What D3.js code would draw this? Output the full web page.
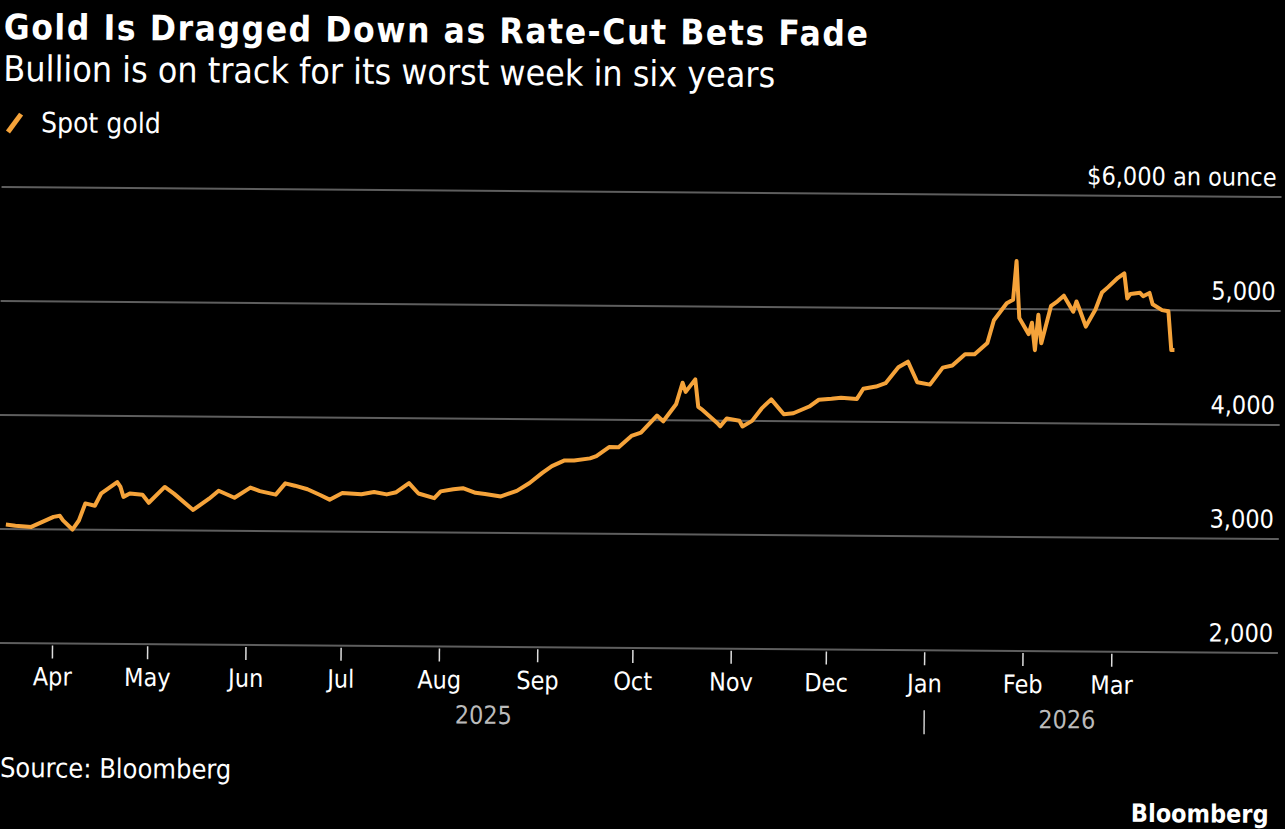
<!DOCTYPE html>
<html><head><meta charset="utf-8">
<script src="https://cdn.jsdelivr.net/npm/d3@7"></script>
<style>body{margin:0;background:#000}svg{display:block}text{font-family:"DejaVu Sans Condensed","DejaVu Sans",sans-serif;fill:#fff}</style>
</head><body><svg id="c" width="1285" height="829"></svg>
<script>
const dates = ["2025-03-17","2025-03-20","2025-03-25","2025-04-01","2025-04-03","2025-04-04","2025-04-07","2025-04-09","2025-04-11","2025-04-14","2025-04-16","2025-04-21","2025-04-22","2025-04-23","2025-04-25","2025-04-29","2025-05-01","2025-05-06","2025-05-09","2025-05-15","2025-05-20","2025-05-23","2025-05-28","2025-06-02","2025-06-05","2025-06-10","2025-06-13","2025-06-16","2025-06-20","2025-06-24","2025-06-27","2025-07-01","2025-07-07","2025-07-11","2025-07-15","2025-07-18","2025-07-22","2025-07-25","2025-07-30","2025-08-01","2025-08-05","2025-08-08","2025-08-12","2025-08-15","2025-08-20","2025-08-25","2025-08-29","2025-09-02","2025-09-05","2025-09-09","2025-09-12","2025-09-17","2025-09-19","2025-09-23","2025-09-26","2025-09-30","2025-10-03","2025-10-08","2025-10-10","2025-10-14","2025-10-16","2025-10-17","2025-10-20","2025-10-21","2025-10-22","2025-10-27","2025-10-28","2025-10-30","2025-11-03","2025-11-04","2025-11-07","2025-11-10","2025-11-13","2025-11-17","2025-11-20","2025-11-25","2025-11-28","2025-12-02","2025-12-05","2025-12-10","2025-12-12","2025-12-16","2025-12-19","2025-12-23","2025-12-26","2025-12-29","2026-01-02","2026-01-06","2026-01-09","2026-01-13","2026-01-16","2026-01-20","2026-01-22","2026-01-26","2026-01-28","2026-01-29","2026-01-30","2026-02-02","2026-02-03","2026-02-04","2026-02-05","2026-02-06","2026-02-09","2026-02-11","2026-02-13","2026-02-16","2026-02-17","2026-02-18","2026-02-20","2026-02-23","2026-02-25","2026-02-27","2026-03-02","2026-03-04","2026-03-05","2026-03-06","2026-03-09","2026-03-10","2026-03-12","2026-03-13","2026-03-16","2026-03-18","2026-03-19","2026-03-20"];
const prices = [3040,3030,3020,3110,3120,3080,3000,3080,3230,3210,3320,3420,3380,3290,3320,3310,3240,3380,3320,3180,3280,3350,3290,3380,3350,3320,3420,3400,3370,3320,3280,3340,3330,3350,3330,3350,3430,3340,3300,3360,3380,3390,3350,3340,3320,3370,3440,3530,3590,3640,3640,3660,3680,3760,3760,3860,3890,4040,3990,4140,4330,4250,4360,4120,4100,3980,3950,4020,4000,3950,4000,4110,4190,4060,4070,4130,4190,4200,4210,4200,4290,4310,4340,4480,4530,4350,4330,4480,4500,4600,4600,4700,4900,5050,5080,5420,4920,4780,4880,4640,4950,4700,5030,5070,5120,4980,5070,5000,4850,5000,5150,5200,5280,5320,5100,5140,5150,5120,5150,5050,5000,4990,4650,4650];
const yTicks = [2000,3000,4000,5000,6000];
const monthLabels = ["Apr","May","Jun","Jul","Aug","Sep","Oct","Nov","Dec","Jan","Feb","Mar"];
const monthStarts = ["2025-04-01","2025-05-01","2025-06-01","2025-07-01","2025-08-01","2025-09-01","2025-10-01","2025-11-01","2025-12-01","2026-01-01","2026-02-01","2026-03-01"];

const parse = d3.timeParse("%Y-%m-%d");
const data = dates.map((d, i) => ({date: parse(d), v: prices[i]}));
const svg = d3.select("#c");
const g = svg.append("g").attr("transform", "rotate(0.45 5 0)");

const x = d3.scaleTime().domain([parse("2025-03-17"), parse("2026-04-23")]).range([10, 1285]);
const y = d3.scaleLinear().domain([2000, 6000]).range([643, 187]);

g.append("text").attr("x", 4).attr("y", 39).attr("font-size", 35).attr("font-weight", "bold").attr("font-family", "DejaVu Sans").attr("letter-spacing", 1.6).text("Gold Is Dragged Down as Rate-Cut Bets Fade");
g.append("text").attr("x", 4).attr("y", 81).attr("font-size", 35.5).text("Bullion is on track for its worst week in six years");
g.append("line").attr("x1", 9).attr("y1", 132).attr("x2", 22).attr("y2", 114).attr("stroke", "#f5a33a").attr("stroke-width", 5);
g.append("text").attr("x", 42).attr("y", 132).attr("font-size", 28).text("Spot gold");

g.selectAll(".grid").data(yTicks).join("line")
  .attr("x1", 3).attr("x2", 1283).attr("y1", d => y(d)).attr("y2", d => y(d))
  .attr("stroke", "#5e5e5e").attr("stroke-width", 2);
g.selectAll(".yl").data(yTicks).join("text")
  .attr("x", 1278).attr("y", d => y(d) - 11).attr("text-anchor", "end").attr("font-size", 25)
  .text(d => d === 6000 ? "$6,000 an ounce" : d3.format(",")(d));

const months = monthStarts.map(parse);
g.selectAll(".tk").data(months).join("line")
  .attr("x1", d => x(d)).attr("x2", d => x(d)).attr("y1", 645).attr("y2", 658)
  .attr("stroke", "#ddd").attr("stroke-width", 1.5);
g.selectAll(".ml").data(months).join("text")
  .attr("x", d => x(d)).attr("y", 685).attr("text-anchor", "middle").attr("font-size", 25)
  .text((d, i) => monthLabels[i]);
g.append("line").attr("x1", x(months[9])).attr("x2", x(months[9])).attr("y1", 703).attr("y2", 727).attr("stroke", "#ccc").attr("stroke-width", 1.5);
g.append("text").attr("x", x(parse("2025-08-15"))).attr("y", 720).attr("text-anchor", "middle").attr("font-size", 25).style("fill", "#bbb").text("2025");
g.append("text").attr("x", x(parse("2026-02-15"))).attr("y", 720).attr("text-anchor", "middle").attr("font-size", 25).style("fill", "#bbb").text("2026");

g.append("path").datum(data)
  .attr("fill", "none").attr("stroke", "#f5a33a").attr("stroke-width", 4).attr("stroke-linejoin", "round")
  .attr("d", d3.line().x(d => x(d.date)).y(d => y(d.v)));

g.append("text").attr("x", 6).attr("y", 777).attr("font-size", 27).text("Source: Bloomberg");
g.append("text").attr("x", 1275).attr("y", 813).attr("text-anchor", "end").attr("font-size", 25).attr("font-weight", "bold").text("Bloomberg");
</script></body></html>
